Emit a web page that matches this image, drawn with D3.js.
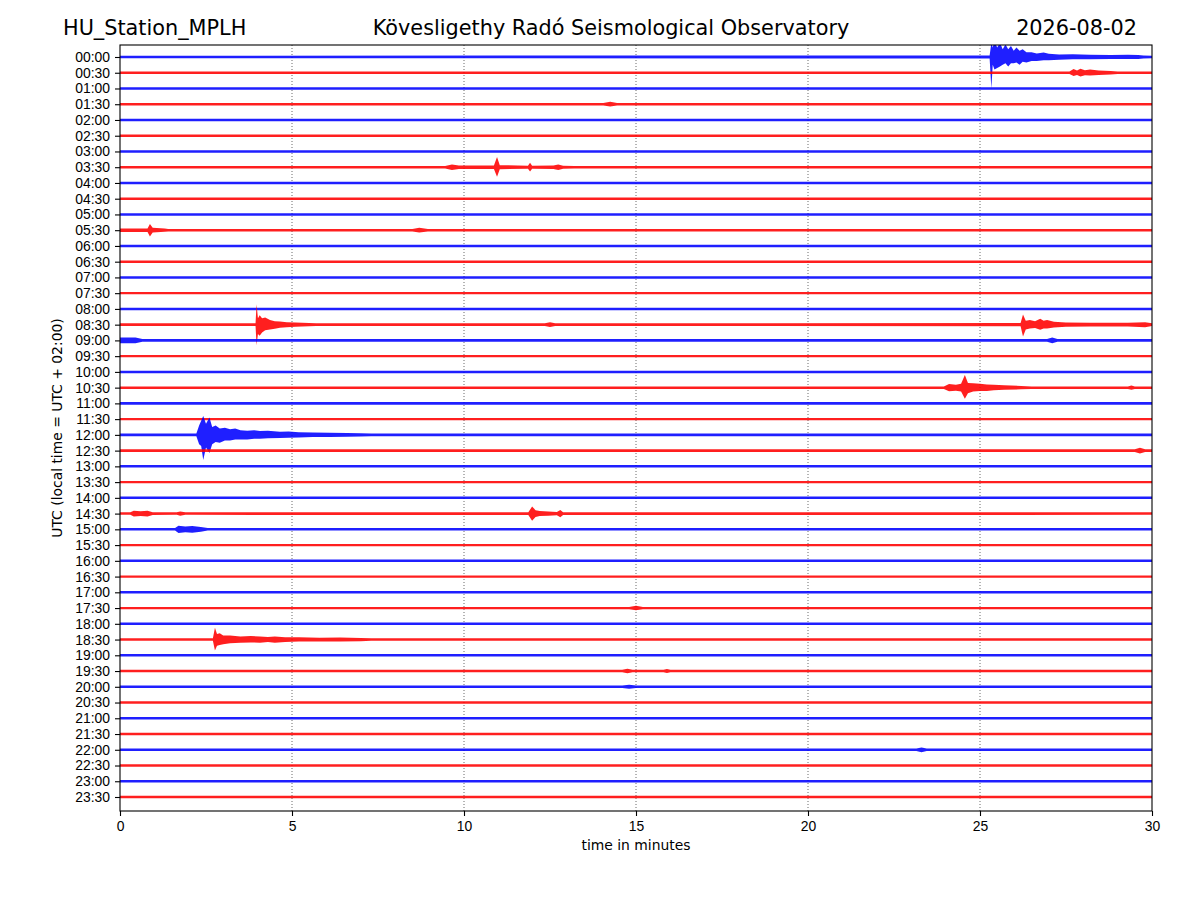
<!DOCTYPE html>
<html>
<head>
<meta charset="utf-8">
<script src="https://cdn.jsdelivr.net/npm/d3@7"></script>
<style>
  body { margin: 0; background: #fff; overflow: hidden; }
  svg { display: block; font-family: "DejaVu Sans", sans-serif; }
</style>
</head>
<body>
<svg id="heli" width="1200" height="900"></svg>
<script>
// trace labels (one trace = 30 minutes)
const traceLabels = [
  "00:00","00:30","01:00","01:30","02:00","02:30","03:00","03:30",
  "04:00","04:30","05:00","05:30","06:00","06:30","07:00","07:30",
  "08:00","08:30","09:00","09:30","10:00","10:30","11:00","11:30",
  "12:00","12:30","13:00","13:30","14:00","14:30","15:00","15:30",
  "16:00","16:30","17:00","17:30","18:00","18:30","19:00","19:30",
  "20:00","20:30","21:00","21:30","22:00","22:30","23:00","23:30"
];
const traceColors = ["#0000ff", "#ff0000"];
const xTicks = [0, 5, 10, 15, 20, 25, 30];

// background noise half-amplitude per trace (10 units = one trace spacing)
const noiseLevel = [
  0.85, 0.8, 0.85, 0.75, 0.8, 0.75, 0.8, 0.8,
  0.8, 0.75, 0.8, 0.8, 0.8, 0.8, 0.8, 0.75,
  0.8, 0.85, 0.85, 0.75, 0.8, 0.8, 0.8, 0.75,
  0.85, 0.8, 0.8, 0.75, 0.8, 0.8, 0.8, 0.75,
  0.8, 0.75, 0.8, 0.75, 0.8, 0.8, 0.8, 0.75,
  0.8, 0.75, 0.8, 0.75, 0.8, 0.75, 0.8, 0.75
];

// events: envelope, [minute, up, down]
const events = [
  { trace: "00:00", env: [[25.28,0.9,0.9],[25.33,9,20],[25.37,6,5],[25.42,10,8],[25.5,6,7],[25.58,9,6],[25.66,5,5],[25.74,8,4],[25.82,5,6],[25.9,7,4],[25.98,4,4],[26.06,6,3.5],[26.15,4,5],[26.24,5,3],[26.35,3,3.5],[26.5,3,2.5],[26.65,2.2,2.5],[26.85,2.8,2],[27.0,2,2],[27.3,1.6,1.7],[27.7,1.8,1.5],[28.2,1.4,1.4],[28.8,1.3,1.3],[29.3,1.5,1.3],[29.6,1.2,1.2],[29.75,0.9,0.9]] },
  { trace: "00:30", env: [[27.6,0.8,0.8],[27.72,2.3,2],[27.82,1.5,1.5],[27.92,2.6,2.4],[28.05,1.6,1.6],[28.2,2,1.8],[28.45,1.5,1.4],[28.8,1.1,1.1],[29,0.8,0.8]] },
  { trace: "01:30", env: [[14.05,0.75,0.75],[14.25,1.5,1.5],[14.45,0.75,0.75]] },
  { trace: "03:30", env: [[9.45,0.8,0.8],[9.65,1.8,1.8],[9.85,1.1,1.1],[10.87,1.1,1.1],[10.96,6.5,6],[11.04,1.3,1.3],[11.86,1,1],[11.92,2.8,2.8],[11.98,1,1],[12.6,1.1,1.1],[12.74,1.8,1.8],[12.88,1,1],[13.2,0.8,0.8]] },
  { trace: "05:30", env: [[0,1.1,1.1],[0.8,1.1,1.1],[0.87,4,4],[0.95,1.5,1.5],[1.3,1,1],[1.4,0.8,0.8],[8.5,0.8,0.8],[8.7,1.5,1.5],[8.95,0.8,0.8]] },
  { trace: "08:30", env: [[3.94,0.9,0.9],[3.97,13,13],[4.01,4,6],[4.06,6,7],[4.13,4,5],[4.22,4.5,3.5],[4.36,3,3],[4.5,2.2,2.6],[4.65,2,2],[4.85,1.6,1.6],[5.1,1.3,1.3],[5.5,1,1],[5.7,0.85,0.85],[12.35,0.85,0.85],[12.5,1.5,1.5],[12.65,0.85,0.85],[26.18,1,1],[26.25,6.5,7.5],[26.33,2.5,3],[26.45,3,2.5],[26.6,2.2,2.2],[26.75,3.8,3.2],[26.85,2.5,2.5],[26.95,3,2.5],[27.15,1.8,1.8],[27.5,1.4,1.4],[28.2,1.2,1.2],[29.3,1.2,1.2],[29.8,1.6,1.6],[30,1.6,1.6]] },
  { trace: "09:00", env: [[0,1.8,1.8],[0.45,1.8,1.8],[0.65,0.85,0.85],[26.95,0.85,0.85],[27.1,1.8,1.8],[27.25,0.85,0.85]] },
  { trace: "10:30", env: [[23.95,0.8,0.8],[24.1,2.3,2.3],[24.3,1.8,2],[24.45,2.5,2.5],[24.56,8,7],[24.65,3,3.5],[24.8,2.8,2.4],[25.0,2.4,2.2],[25.2,2,2.2],[25.4,1.8,1.6],[25.7,1.5,1.4],[26.2,1.1,1.1],[26.5,0.8,0.8],[29.3,0.8,0.8],[29.4,1.3,1.3],[29.5,0.8,0.8]] },
  { trace: "12:00", env: [[2.22,0.85,0.85],[2.3,6,6],[2.36,9,7],[2.42,12,16],[2.5,7,8],[2.6,11,11.5],[2.68,5,6],[2.78,6,4.5],[2.9,4,5],[3.05,4.5,3.5],[3.2,3.5,3.5],[3.35,4,3],[3.5,3,3],[3.7,2.6,3],[3.9,3,2.4],[4.07,2.4,2.4],[4.3,2.6,2.2],[4.65,2,2],[4.9,2.2,1.8],[5.2,1.6,1.6],[5.6,1.5,1.4],[6.1,1.3,1.3],[6.6,1.2,1.2],[7.0,1,1],[7.3,0.85,0.85]] },
  { trace: "12:30", env: [[29.5,0.8,0.8],[29.65,1.8,1.8],[29.8,0.8,0.8]] },
  { trace: "14:30", env: [[0.3,0.8,0.8],[0.4,1.8,1.8],[0.6,1.5,1.5],[0.8,1.8,1.8],[0.95,0.9,0.9],[1.65,0.8,0.8],[1.75,1.4,1.4],[1.9,0.8,0.8],[11.87,0.9,0.9],[11.98,4.5,4.5],[12.08,2.2,2.2],[12.2,1.6,1.6],[12.45,1.3,1.3],[12.7,1,1],[12.8,2.3,2.3],[12.88,0.9,0.9]] },
  { trace: "15:00", env: [[1.6,0.8,0.8],[1.7,2.3,2.3],[1.9,1.8,1.8],[2.1,2.2,2.2],[2.35,1.5,1.5],[2.55,0.8,0.8]] },
  { trace: "17:30", env: [[14.8,0.75,0.75],[15.0,1.4,1.4],[15.2,0.75,0.75]] },
  { trace: "18:30", env: [[2.7,0.8,0.8],[2.76,7.5,7],[2.82,3.5,4],[2.9,4,3.5],[3.0,2.5,3],[3.2,2.6,2.4],[3.5,2,2],[3.8,2.2,1.8],[4.07,2,2],[4.3,1.6,1.6],[4.5,2,2],[4.8,1.5,1.5],[5.2,1.4,1.3],[5.8,1.2,1.2],[6.4,1.3,1.2],[7.0,1,1],[7.3,0.8,0.8]] },
  { trace: "19:30", env: [[14.6,0.75,0.75],[14.75,1.4,1.4],[14.9,0.75,0.75],[15.8,0.75,0.75],[15.9,1.3,1.3],[16.0,0.75,0.75]] },
  { trace: "20:00", env: [[14.6,0.8,0.8],[14.8,1.3,1.3],[15.0,0.8,0.8]] },
  { trace: "22:00", env: [[23.15,0.8,0.8],[23.3,1.5,1.5],[23.45,0.8,0.8]] }
];

const svg = d3.select("#heli");
const margin = { top: 45, right: 48, bottom: 89, left: 120 };
const width = 1200, height = 900;
const innerWidth = width - margin.left - margin.right;
const innerHeight = height - margin.top - margin.bottom;

const xScale = d3.scaleLinear().domain([0, 30]).range([0, innerWidth]);
const yScale = d3.scaleLinear()
  .domain([-0.762, traceLabels.length - 1 + 0.889])
  .range([0, innerHeight]);
const ampScale = d3.scaleLinear().domain([0, 10]).range([0, yScale(1) - yScale(0)]);

const g = svg.append("g").attr("transform", `translate(${margin.left}, ${margin.top})`);

g.append("clipPath").attr("id", "plotClip")
  .append("rect").attr("width", innerWidth).attr("height", innerHeight);

// dotted vertical grid
g.append("g")
  .selectAll("line")
  .data(xTicks.slice(1, -1))
  .enter()
  .append("line")
  .attr("x1", d => xScale(d)).attr("x2", d => xScale(d))
  .attr("y1", 0).attr("y2", innerHeight)
  .attr("stroke", "#444")
  .attr("stroke-width", 0.8)
  .attr("stroke-dasharray", "1,2");

// traces
const traceData = traceLabels.map((label, i) => {
  const n = noiseLevel[i];
  let pts = [[0, n, n], [30, n, n]];
  events.filter(e => e.trace === label).forEach(e => {
    e.env.forEach(p => pts.push([p[0], Math.max(n, p[1]), Math.max(n, p[2])]));
  });
  pts.sort((a, b) => a[0] - b[0]);
  return { label, i, pts };
});

const traceG = g.append("g").attr("clip-path", "url(#plotClip)");

traceG.selectAll("path")
  .data(traceData)
  .enter()
  .append("path")
  .attr("d", d => d3.area()
    .x(p => xScale(p[0]))
    .y0(p => yScale(d.i) + ampScale(p[2]))
    .y1(p => yScale(d.i) - ampScale(p[1]))(d.pts))
  .attr("fill", d => traceColors[d.i % 2])
  .attr("fill-opacity", 0.88)
  .attr("stroke", "none");

// Y-axis
const yAxis = g.append("g")
  .call(d3.axisLeft(yScale)
    .tickValues(d3.range(traceLabels.length))
    .tickFormat(i => traceLabels[i])
    .tickSize(5).tickPadding(5));
yAxis.select(".domain").remove();
yAxis.selectAll("text").style("font-size", "13.9px").attr("fill", "#000");
yAxis.selectAll("line").attr("stroke", "#000").attr("stroke-width", 1.1);

// X-axis
const xAxis = g.append("g")
  .attr("transform", `translate(0,${innerHeight})`)
  .call(d3.axisBottom(xScale).tickValues(xTicks).tickFormat(d3.format("d"))
    .tickSize(5).tickPadding(5));
xAxis.select(".domain").remove();
xAxis.selectAll("text").style("font-size", "13.9px").attr("fill", "#000");
xAxis.selectAll("line").attr("stroke", "#000").attr("stroke-width", 1.1);

// frame
g.append("rect")
  .attr("width", innerWidth).attr("height", innerHeight)
  .attr("fill", "none").attr("stroke", "#000").attr("stroke-width", 1.1);

// Axis-labels
g.append("text")
  .attr("x", innerWidth / 2).attr("y", innerHeight + 39)
  .attr("text-anchor", "middle")
  .style("font-size", "13.9px")
  .text("time in minutes");

svg.append("text")
  .attr("transform", `translate(62, ${margin.top + innerHeight / 2}) rotate(-90)`)
  .attr("text-anchor", "middle")
  .style("font-size", "13.9px")
  .text("UTC (local time = UTC + 02:00)");

// titles
svg.append("text").attr("x", 63).attr("y", 35)
  .style("font-size", "20.8px").text("HU_Station_MPLH");
svg.append("text").attr("x", 611).attr("y", 35).attr("text-anchor", "middle")
  .style("font-size", "20.8px").text("Kövesligethy Radó Seismological Observatory");
svg.append("text").attr("x", 1137).attr("y", 35).attr("text-anchor", "end")
  .style("font-size", "20.8px").text("2026-08-02");
</script>
</body>
</html>
